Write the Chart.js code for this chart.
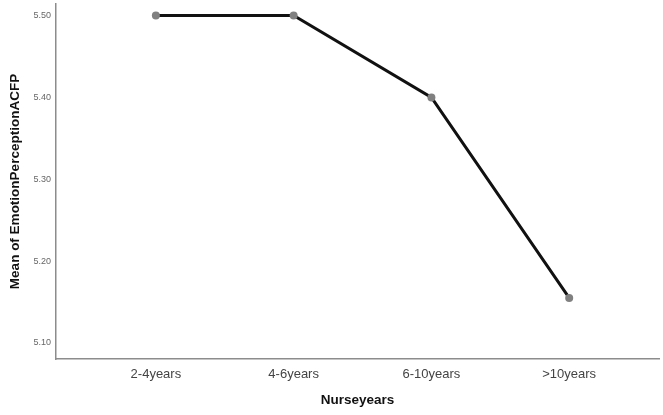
<!DOCTYPE html>
<html>
<head>
<meta charset="utf-8">
<script src="https://cdn.jsdelivr.net/npm/chart.js@4"></script>
<style>
html,body{margin:0;padding:0;background:#fff;}
#wrap{width:663px;height:415px;}
</style>
</head>
<body>
<div id="wrap"><canvas id="c" width="663" height="415"></canvas></div>
<script>
const categories = ["2-4years", "4-6years", "6-10years", ">10years"];
const meanValues = [5.50, 5.50, 5.40, 5.155];
const yTickValues = [5.10, 5.20, 5.30, 5.40, 5.50];
const xTitle = "Nurseyears";
const yTitle = "Mean of EmotionPerceptionACFP";

const points = categories.map((c, i) => ({x: i + 1, y: meanValues[i]}));

function zeroPad(s) { s.paddingTop = 0; s.paddingBottom = 0; s.paddingLeft = 0; s.paddingRight = 0; }

new Chart(document.getElementById('c'), {
  type: 'line',
  data: {
    datasets: [{
      data: points,
      borderColor: '#111111',
      borderWidth: 3,
      pointRadius: 4,
      pointHoverRadius: 4,
      pointBackgroundColor: '#808080',
      pointBorderColor: '#808080',
      pointBorderWidth: 0,
      tension: 0
    }]
  },
  options: {
    responsive: false,
    animation: false,
    events: [],
    layout: {padding: {top: 0, right: 0, bottom: 0, left: 0}},
    plugins: {legend: {display: false}, tooltip: {enabled: false}},
    scales: {
      x: {
        type: 'linear',
        min: 0.275,
        max: 4.652,
        afterBuildTicks: (s) => { s.ticks = categories.map((c, i) => ({value: i + 1})); },
        afterFit: (s) => { s.height = 56; zeroPad(s); },
        grid: {display: false, drawTicks: false},
        border: {display: true, color: '#8c8c8c', width: 1.5},
        ticks: {
          padding: 8,
          color: '#444',
          font: {family: 'Liberation Sans, Arial, sans-serif', size: 13},
          maxRotation: 0,
          autoSkip: false,
          callback: (v) => categories[Math.round(v) - 1] || ''
        },
        title: {
          display: true,
          text: xTitle,
          color: '#111',
          font: {family: 'Liberation Sans, Arial, sans-serif', size: 13.5, weight: 'bold'},
          padding: {top: 0, bottom: 7}
        }
      },
      y: {
        type: 'linear',
        min: 5.0804,
        max: 5.5141,
        afterBuildTicks: (s) => { s.ticks = yTickValues.map(v => ({value: v})); },
        afterFit: (s) => { s.width = 56; zeroPad(s); },
        grid: {display: false, drawTicks: false},
        border: {display: true, color: '#8c8c8c', width: 1.5},
        ticks: {
          padding: 5,
          color: '#666',
          font: {family: 'Liberation Sans, Arial, sans-serif', size: 9},
          autoSkip: false,
          callback: (v) => Number(v).toFixed(2)
        },
        title: {
          display: true,
          text: yTitle,
          color: '#111',
          font: {family: 'Liberation Sans, Arial, sans-serif', size: 13.5, weight: 'bold'},
          padding: {top: 7, bottom: 0}
        }
      }
    }
  }
});
</script>
</body>
</html>
